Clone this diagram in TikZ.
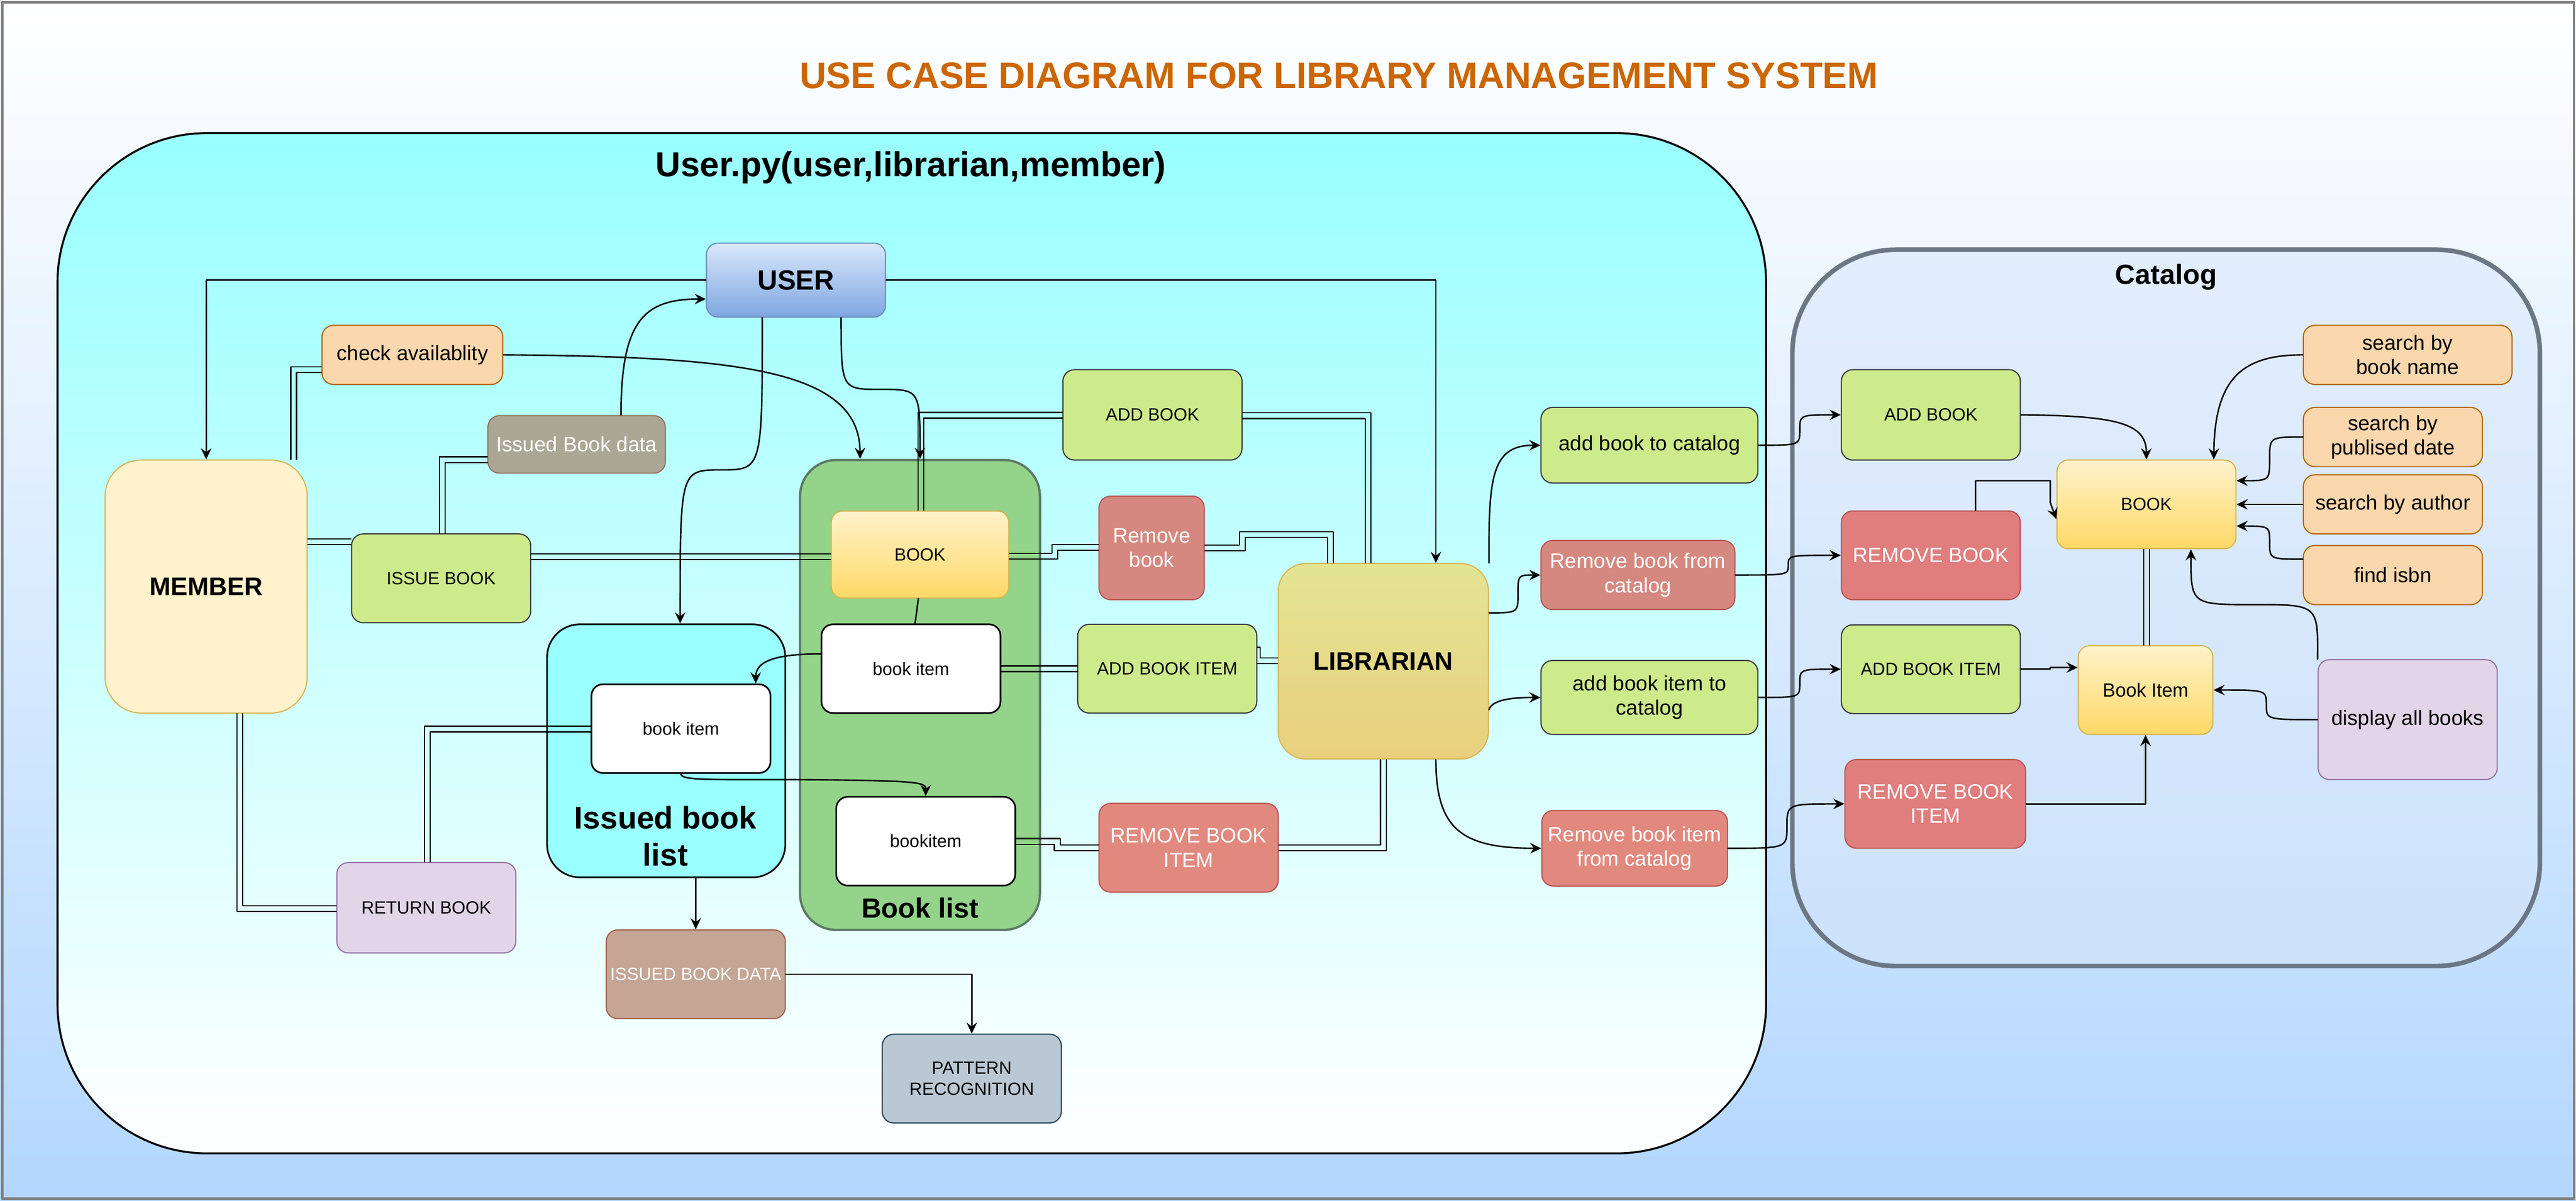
\documentclass[tikz,border=0pt]{standalone}
\usepackage{fontspec}
\setmainfont{Liberation Sans}
\usetikzlibrary{arrows.meta}

\definecolor{bgB}{HTML}{B3D7FF}
\definecolor{frame}{HTML}{808080}
\definecolor{titleorange}{HTML}{CC6600}
\definecolor{cyanA}{HTML}{99FFFF}
\definecolor{catA}{HTML}{E3EEFD}
\definecolor{catB}{HTML}{CCE2FB}
\definecolor{catline}{HTML}{6C7785}
\definecolor{blgreen}{HTML}{93D38A}
\definecolor{blline}{HTML}{5B7B63}
\definecolor{addfill}{HTML}{CDEB8B}
\definecolor{addline}{HTML}{36393D}
\definecolor{remline}{HTML}{B85450}
\definecolor{rmA}{HTML}{D5887F}
\definecolor{rmB}{HTML}{E2897F}
\definecolor{crmfill}{HTML}{E07D7D}
\definecolor{findfill}{HTML}{FAD7AC}
\definecolor{findline}{HTML}{B46504}
\definecolor{purfill}{HTML}{E1D5E7}
\definecolor{purline}{HTML}{9673A6}
\definecolor{ibdfill}{HTML}{AAA794}
\definecolor{ibdline}{HTML}{96705A}
\definecolor{ibdatafill}{HTML}{C5A594}
\definecolor{ibdataline}{HTML}{A0614A}
\definecolor{patfill}{HTML}{BAC8D3}
\definecolor{patline}{HTML}{23445D}
\definecolor{memfill}{HTML}{FFF2CC}
\definecolor{bookA}{HTML}{FFF2CC}
\definecolor{bookB}{HTML}{FFD966}
\definecolor{bookline}{HTML}{D6B656}
\definecolor{userA}{HTML}{DAE8FC}
\definecolor{userB}{HTML}{7EA6E0}
\definecolor{userline}{HTML}{6C8EBF}
\definecolor{libA}{HTML}{E3E594}
\definecolor{libB}{HTML}{E8CF7D}

\newcommand{\fsmall}{\fontsize{15.3}{18}\selectfont}
\newcommand{\fbig}{\fontsize{18}{21}\selectfont}

\begin{document}
\begin{tikzpicture}[x=0.5mm, y=-0.5mm, >={Stealth[length=3.4mm,width=3.2mm,inset=1.2mm]},
  line join=round, line cap=round,
  dims/.style 2 args={minimum width=#1*0.5mm, minimum height=#2*0.5mm},
  uc/.style={draw, rounded corners=3.5mm, line width=0.35mm, align=center, inner sep=0.5mm, font=\fsmall},
  addcase/.style={uc, fill=addfill, draw=addline},
  remcase/.style={uc, draw=remline, text=white, font=\fbig},
  findcase/.style={uc, fill=findfill, draw=findline, font=\fbig},
  itembox/.style={uc, fill=white, draw=black, line width=0.5mm},
  bookbox/.style={uc, top color=bookA, bottom color=bookB, draw=bookline},
  wire/.style={line width=0.45mm},
  flow/.style={wire, ->},
  link/.style={line width=0.35mm}]
\useasboundingbox (0,0) rectangle (1568,731);
\fill[top color=white, bottom color=bgB] (0,0) rectangle (1568,731);
\draw[frame, line width=0.75mm] (1.3,1.3) rectangle (1566.7,729.7);
\node[text=titleorange, font=\bfseries\fontsize{32}{38}\selectfont] (title) at (815,46) {USE CASE DIAGRAM FOR LIBRARY MANAGEMENT SYSTEM};

% containers
\node[draw=black, line width=0.6mm, rounded corners=45.5mm, top color=cyanA, bottom color=white, dims={1040}{621}] (userpy) at (555,391.5) {};
\node[font=\bfseries\fontsize{30}{36}\selectfont] (userpytitle) at (554.5,102) {User.py(user,librarian,member)};
\node[draw=catline, line width=1.4mm, rounded corners=31.5mm, top color=catA, bottom color=catB, dims={455}{436}] (catalog) at (1318.5,370) {};
\node[font=\bfseries\fontsize{24}{28}\selectfont] (cattitle) at (1318.5,168.6) {Catalog};
\node[draw=blline, line width=0.7mm, rounded corners=11mm, fill=blgreen, dims={146}{286}] (booklist) at (560,423) {};
\node[font=\bfseries\fontsize{24}{28}\selectfont] (booklisttitle) at (560,552.5) {Book list};
\node[draw=black, line width=0.5mm, rounded corners=10mm, fill=cyanA, dims={145}{154}] (issued) at (405.5,457) {};
\node[align=center, font=\bfseries\fontsize{27}{32}\selectfont] (issuedtitle) at (405,509) {Issued book\\list};

% user side
\node[uc, dims={109}{45}, top color=userA, bottom color=userB, draw=userline, font=\bfseries\fontsize{24}{28}\selectfont] (user) at (484.5,170.5) {USER};
\node[findcase, dims={110}{36}] (chk) at (251,216) {check availablity};
\node[uc, dims={108}{35}, fill=ibdfill, draw=ibdline, text=white, font=\fbig] (ibd) at (351,270.5) {Issued Book data};
\node[uc, dims={123}{154}, rounded corners=11mm, fill=memfill, draw=bookline, font=\bfseries\fontsize{22}{26}\selectfont] (member) at (125.5,357) {MEMBER};
\node[addcase, dims={109}{54}] (issue) at (268.5,352) {ISSUE BOOK};
\node[bookbox, dims={108}{53}] (book1) at (560,337.5) {BOOK};
\node[itembox, dims={109}{54}] (item1) at (554.5,407) {book item};
\node[itembox, dims={109}{54}] (item2) at (563.5,512) {bookitem};
\node[itembox, dims={109}{54}] (item3) at (414.5,443.5) {book item};
\node[uc, dims={109}{54}, fill=ibdatafill, draw=ibdataline, text=white] (ibdata) at (423.5,593) {ISSUED BOOK DATA};
\node[uc, dims={109}{54}, fill=patfill, draw=patline] (pattern) at (591.5,656.5) {PATTERN\\RECOGNITION};
\node[uc, dims={109}{55}, fill=purfill, draw=purline] (retbook) at (259.5,552.5) {RETURN BOOK};
\node[addcase, dims={109}{55}] (addbook) at (701.5,252.5) {ADD BOOK};
\node[remcase, dims={64}{63}, fill=rmA] (rmbook) at (701,333.5) {Remove\\book};
\node[addcase, dims={109}{54}] (additem) at (710.5,407) {ADD BOOK ITEM};
\node[remcase, dims={109}{54}, fill=rmB] (rmitem) at (723.5,516) {REMOVE BOOK\\ITEM};
\node[uc, dims={128}{119}, rounded corners=8.5mm, top color=libA, bottom color=libB, draw=bookline, font=\bfseries\fontsize{22}{26}\selectfont] (librarian) at (842,402.5) {LIBRARIAN};
\node[addcase, dims={132}{46}, font=\fbig] (addcat) at (1004,271) {add book to catalog};
\node[remcase, dims={118}{42}, fill=rmA] (rmcat) at (997,350) {Remove book from\\catalog};
\node[addcase, dims={132}{45}, font=\fbig] (additemcat) at (1004,424.5) {add book item to\\catalog};
\node[remcase, dims={113}{46}, fill=rmB] (rmitemcat) at (995,516.3) {Remove book item\\from catalog};

% catalog side
\node[addcase, dims={109}{55}] (cadd) at (1175.3,252.5) {ADD BOOK};
\node[remcase, dims={109}{54}, fill=crmfill] (crm) at (1175.3,338) {REMOVE BOOK};
\node[addcase, dims={109}{54}] (cadditem) at (1175.3,407.3) {ADD BOOK ITEM};
\node[remcase, dims={110}{54}, fill=crmfill] (crmitem) at (1178,489.3) {REMOVE BOOK\\ITEM};
\node[bookbox, dims={109}{54}] (cbook) at (1306.5,307) {BOOK};
\node[bookbox, dims={82}{54}, font=\fontsize{16.5}{19}\selectfont] (citem) at (1306,420) {Book Item};
\node[findcase, dims={127}{36}] (sname) at (1465.5,216) {search by\\book name};
\node[findcase, dims={109}{36}] (sdate) at (1456.5,266) {search by\\publised date};
\node[findcase, dims={109}{36}] (sauth) at (1456.5,307) {search by author};
\node[findcase, dims={109}{36}] (isbn) at (1456.5,350) {find isbn};
\node[uc, dims={109}{73}, fill=purfill, draw=purline, font=\fbig] (disp) at (1465.5,438) {display all books};

% single connectors
\draw[flow] (user.west) -| (member.north);
\draw[flow] (user.east) -| (874,0 |- librarian.north);
\draw[flow] (user.south -| 464,0) .. controls (464,286) .. (439,286) .. controls (414,286) .. (issued.north -| 414,0);
\draw[flow] (user.south -| 512,0) .. controls (512,237) .. (536,237) .. controls (560,237) .. (booklist.north -| 560,0);
\draw[flow] (chk.east) .. controls (450,217) and (523.5,225) .. (booklist.north -| 523.5,0);
\draw[flow] (ibd.north -| 378,0) .. controls (378,195) and (392,182) .. (user.west |- 0,182);
\draw[wire] (book1.south -| 559,0) -- (item1.north -| 557,0);
\draw[flow] (item1.west |- 0,398) .. controls (468,398) and (460,404) .. (item3.north -| 460,0);
\draw[flow] (item3.south) .. controls (414.5,475) and (430,474.5) .. (480,474.5) .. controls (560,475) and (563.5,476) .. (item2.north);
\draw[flow] (issued.south -| ibdata.north) -- (ibdata.north);
\draw[flow] (ibdata.east) -| (pattern.north);
\draw[flow] (librarian.north east) .. controls (906,290) and (908,271) .. (addcat.west);
\draw[flow] (librarian.east |- 0,373) .. controls (924,373) .. (924,361.5) .. controls (924,350) .. (rmcat.west);
\draw[flow] (librarian.east |- 0,432) .. controls (908,426) and (920,424.5) .. (additemcat.west);
\draw[flow] (librarian.south -| 874,0) .. controls (874,505) and (890,516.3) .. (rmitemcat.west);
\draw[flow] (addcat.east) .. controls (1095.5,271) .. (1095.5,261.8) .. controls (1095.5,252.5) .. (cadd.west);
\draw[flow] (rmcat.east) .. controls (1088.5,350) .. (1088.5,344) .. controls (1088.5,338) .. (crm.west);
\draw[flow] (additemcat.east) .. controls (1095.5,424.5) .. (1095.5,416) .. controls (1095.5,407.3) .. (cadditem.west);
\draw[flow] (rmitemcat.east) .. controls (1087.7,516.3) .. (1087.7,503) .. controls (1087.7,489.3) .. (crmitem.west);
\draw[flow] (cadd.east) .. controls (1290,253) and (1306.5,258) .. (cbook.north);
\draw[flow] (crm.north -| 1202.5,0) |- (1248,292.6) -- (1248,306) -- (cbook.west |- 0,316);
\draw[flow] (cadditem.east) -- (1248,0 |- cadditem.east) -- (1248,406.3) -- (citem.west |- 0,406.3);
\draw[flow] (crmitem.east) -| (citem.south);
\draw[flow] (sname.west) .. controls (1365,216) and (1348,230) .. (cbook.north east -| 1347.5,0);
\draw[flow] (sdate.west) .. controls (1381.5,266) .. (1381.5,279.3) .. controls (1381.5,292.6) .. (cbook.east |- 0,292.6);
\draw[flow] (sauth.west) -- (cbook.east |- sauth.west);
\draw[flow] (isbn.west |- 0,340.3) .. controls (1381.5,340.3) .. (1381.5,330.3) .. controls (1381.5,320.2) .. (cbook.east |- 0,320.2);
\draw[flow] (disp.north west) .. controls (1411,368) .. (1372,368) .. controls (1333.6,368) .. (cbook.south -| 1333.6,0);
\draw[flow] (disp.west) .. controls (1379.5,438) .. (1379.5,429) .. controls (1379.5,420) .. (citem.east);

% double connectors
\draw[link] (chk.west |- 0,223.3) -| (member.north -| 177,0)
            (chk.west |- 0,226.8) -| (member.north -| 180.5,0);
\draw[link] (ibd.west |- 0,278) -| (issue.north -| 267.5,0)
            (ibd.west |- 0,281.5) -| (issue.north -| 271,0);
\draw[link] (member.east |- 0,328) -- (issue.west |- 0,328)
            (member.east |- 0,331.5) -- (issue.west |- 0,331.5);
\draw[link] (issue.east |- 0,337) -- (book1.west |- 0,337)
            (issue.east |- 0,340.5) -- (book1.west |- 0,340.5);
\draw[link] (addbook.west |- 0,251) -| (book1.north -| 558.8,0)
            (addbook.west |- 0,254.5) -| (book1.north -| 562.3,0);
\draw[link] (addbook.east |- 0,251.3) -| (librarian.north -| 834.5,0)
            (addbook.east |- 0,254.8) -| (librarian.north -| 831,0);
\draw[link] (book1.east |- 0,336.8) -| (640.3,331.5) -- (rmbook.west |- 0,331.5)
            (book1.east |- 0,340.3) -| (643.8,335) -- (rmbook.west |- 0,335);
\draw[link] (rmbook.east |- 0,331.8) -| (754.5,323.7) -| (librarian.north -| 811.6,0)
            (rmbook.east |- 0,335.3) -| (758,327.2) -| (librarian.north -| 808.1,0);
\draw[link] (item1.east |- 0,405.3) -- (additem.west |- 0,405.3)
            (item1.east |- 0,408.8) -- (additem.west |- 0,408.8);
\draw[link] (additem.east |- 0,394) -- ++(1.6,0) |- (librarian.west |- 0,400.5)
            (additem.east |- 0,404) -- (librarian.west |- 0,404);
\draw[link] (item2.east |- 0,510.4) -| (645.3,514.3) -- (rmitem.west |- 0,514.3)
            (item2.east |- 0,513.9) -| (641.8,517.8) -- (rmitem.west |- 0,517.8);
\draw[link] (rmitem.east |- 0,514.3) -| (librarian.south -| 840.3,0)
            (rmitem.east |- 0,517.8) -| (librarian.south -| 843.8,0);
\draw[link] (item3.west |- 0,442) -| (retbook.north -| 258.3,0)
            (item3.west |- 0,445.5) -| (retbook.north -| 261.8,0);
\draw[link] (member.south -| 147.8,0) |- (retbook.west |- 0,551.2)
            (member.south -| 144.3,0) |- (retbook.west |- 0,554.7);
\draw[link] (cbook.south -| 1304.8,0) -- (citem.north -| 1304.8,0)
            (cbook.south -| 1308.3,0) -- (citem.north -| 1308.3,0);
\end{tikzpicture}
\end{document}
